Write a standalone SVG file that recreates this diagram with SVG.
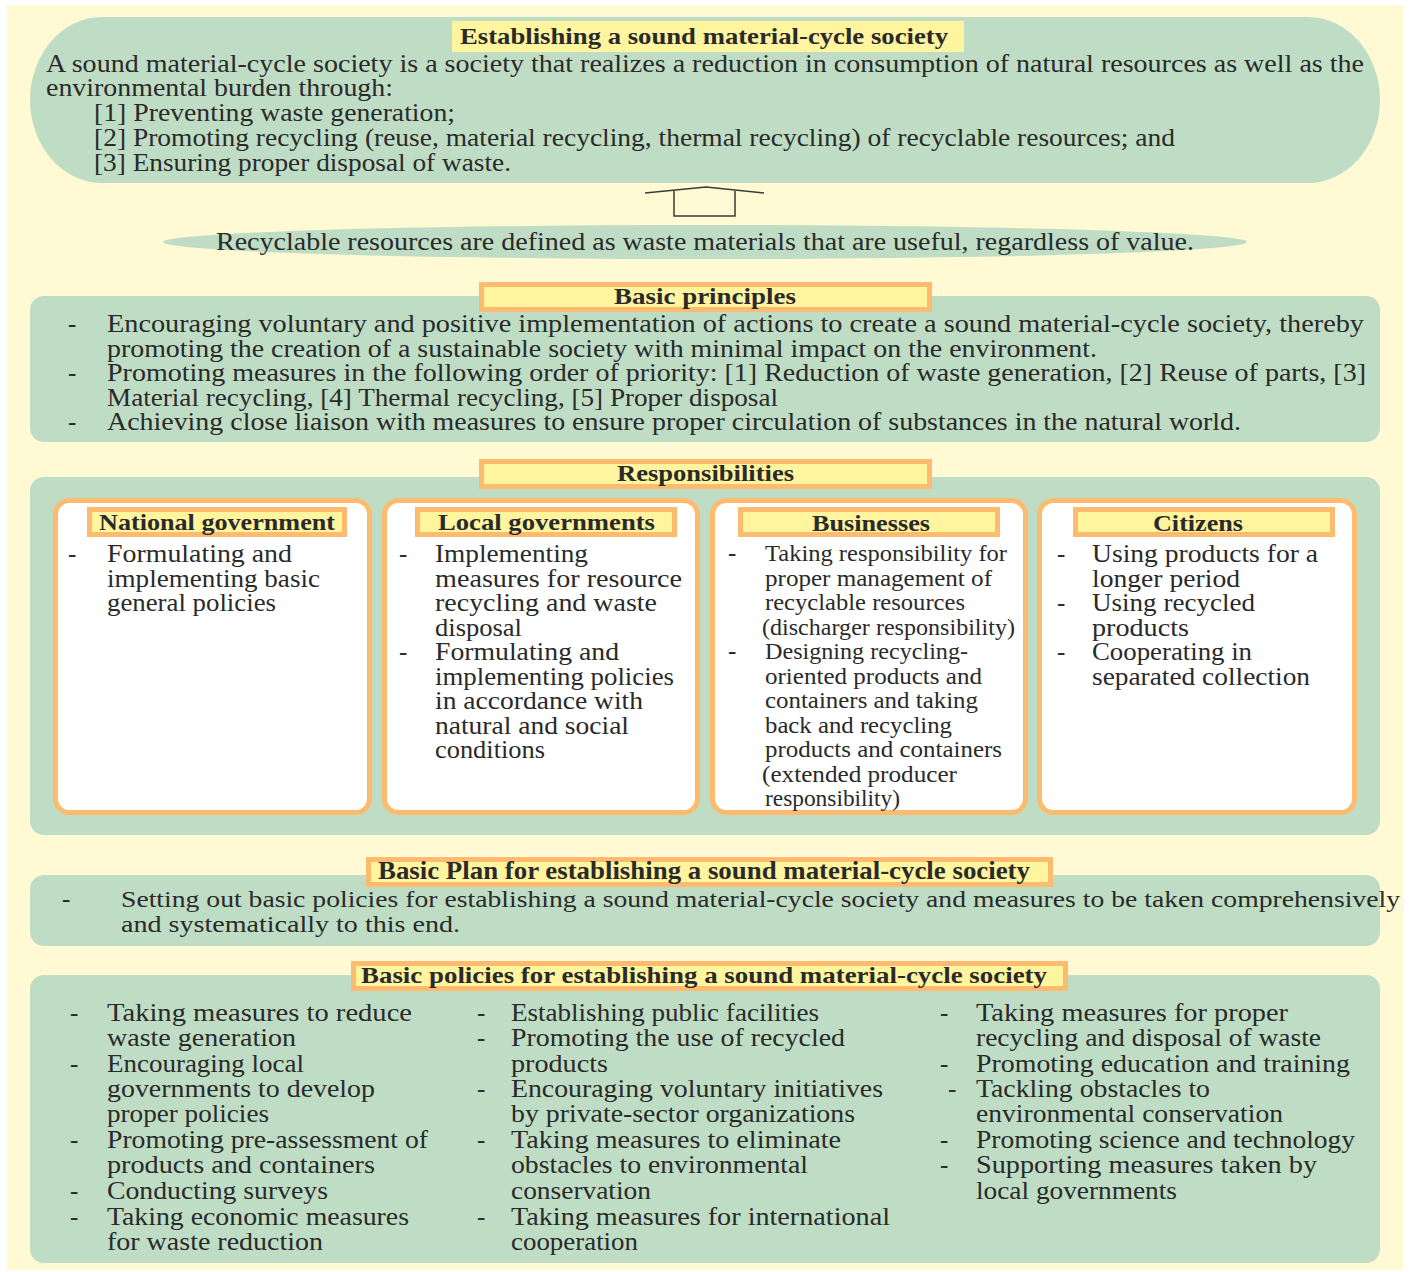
<svg xmlns="http://www.w3.org/2000/svg" width="1416" height="1272" viewBox="0 0 1416 1272">
<defs>
<style>
  .bg{fill:#fffad3}
  .panel{fill:#bfddc5}
  .tag{fill:#fff59e;stroke:#fdbb70;stroke-width:5}
  .tagplain{fill:#fff59e}
  .card{fill:#ffffff;stroke:#fdbb70;stroke-width:5}
  text{font-family:"Liberation Serif","DejaVu Serif",serif;fill:#2a2a2a;font-size:25px}
  .h{font-size:23px;font-weight:bold}
  .s{font-size:23.5px}
  .arrow{fill:none;stroke:#3a3a3a;stroke-width:1.5;stroke-linejoin:miter}
</style>
</defs>

<rect width="1416" height="1272" fill="#ffffff"/>
<rect x="7" y="5" width="1396" height="1265" class="bg"/>

<!-- Definition of a sound material-cycle society -->
<g id="definition">
  <rect x="30" y="17" width="1350" height="166" rx="72" ry="83" class="panel"/>
  <rect x="452" y="21" width="512" height="31" class="tagplain"/>
  <text class="h" x="460" y="44" textLength="488" lengthAdjust="spacingAndGlyphs">Establishing a sound material-cycle society</text>
  <text x="46" y="71.5" textLength="1318" lengthAdjust="spacingAndGlyphs">A sound material-cycle society is a society that realizes a reduction in consumption of natural resources as well as the</text>
  <text x="46" y="96" textLength="347" lengthAdjust="spacingAndGlyphs">environmental burden through:</text>
  <text x="94" y="121" textLength="361" lengthAdjust="spacingAndGlyphs">[1] Preventing waste generation;</text>
  <text x="94" y="146" textLength="1081" lengthAdjust="spacingAndGlyphs">[2] Promoting recycling (reuse, material recycling, thermal recycling) of recyclable resources; and</text>
  <text x="94" y="171" textLength="417" lengthAdjust="spacingAndGlyphs">[3] Ensuring proper disposal of waste.</text>
</g>

<!-- Definition of recyclable resources -->
<g id="recyclable-resources">
  <ellipse cx="705" cy="242" rx="542" ry="17" class="panel"/>
  <text x="216" y="249.5" textLength="978" lengthAdjust="spacingAndGlyphs">Recyclable resources are defined as waste materials that are useful, regardless of value.</text>
</g>

<!-- Connectors -->
<g id="connectors">
  <path class="arrow" d="M645,193 L706,187 L764,193 M735,191 L735,216 L674,216 L674,191"/>
</g>

<!-- Basic principles -->
<g id="basic-principles">
  <rect x="30" y="296" width="1350" height="146" rx="14" class="panel"/>
  <rect x="481.5" y="284.5" width="448" height="25" class="tag"/>
  <text class="h" x="614" y="303.5" textLength="182" lengthAdjust="spacingAndGlyphs">Basic principles</text>
  <text x="68" y="332">-</text>
  <text x="107" y="332" textLength="1257" lengthAdjust="spacingAndGlyphs">Encouraging voluntary and positive implementation of actions to create a sound material-cycle society, thereby</text>
  <text x="107" y="356.5" textLength="990" lengthAdjust="spacingAndGlyphs">promoting the creation of a sustainable society with minimal impact on the environment.</text>
  <text x="68" y="381">-</text>
  <text x="107" y="381" textLength="1259" lengthAdjust="spacingAndGlyphs">Promoting measures in the following order of priority: [1] Reduction of waste generation, [2] Reuse of parts, [3]</text>
  <text x="107" y="405.5" textLength="671" lengthAdjust="spacingAndGlyphs">Material recycling, [4] Thermal recycling, [5] Proper disposal</text>
  <text x="68" y="430">-</text>
  <text x="107" y="430" textLength="1134" lengthAdjust="spacingAndGlyphs">Achieving close liaison with measures to ensure proper circulation of substances in the natural world.</text>
</g>

<!-- Responsibilities -->
<g id="responsibilities">
  <rect x="30" y="477" width="1350" height="358" rx="14" class="panel"/>
  <rect x="481.5" y="461.5" width="448" height="25" class="tag"/>
  <text class="h" x="617" y="481" textLength="177" lengthAdjust="spacingAndGlyphs">Responsibilities</text>
</g>

<g id="resp-national">
  <rect x="55.5" y="500.5" width="314" height="312" rx="14" class="card"/>
  <rect x="89.5" y="509.5" width="255" height="25" class="tag"/>
  <text class="h" x="99" y="530" textLength="236" lengthAdjust="spacingAndGlyphs">National government</text>
  <text x="68" y="562">-</text>
  <text x="107" y="562" textLength="185" lengthAdjust="spacingAndGlyphs">Formulating and</text>
  <text x="107" y="586.5" textLength="213" lengthAdjust="spacingAndGlyphs">implementing basic</text>
  <text x="107" y="611" textLength="169" lengthAdjust="spacingAndGlyphs">general policies</text>
</g>

<g id="resp-local">
  <rect x="384.5" y="500.5" width="313" height="312" rx="14" class="card"/>
  <rect x="417.5" y="509.5" width="257" height="25" class="tag"/>
  <text class="h" x="438" y="530" textLength="217" lengthAdjust="spacingAndGlyphs">Local governments</text>
  <text x="399" y="562">-</text>
  <text x="435" y="562" textLength="153" lengthAdjust="spacingAndGlyphs">Implementing</text>
  <text x="435" y="586.5" textLength="247" lengthAdjust="spacingAndGlyphs">measures for resource</text>
  <text x="435" y="611" textLength="222" lengthAdjust="spacingAndGlyphs">recycling and waste</text>
  <text x="435" y="635.5" textLength="87" lengthAdjust="spacingAndGlyphs">disposal</text>
  <text x="399" y="660">-</text>
  <text x="435" y="660" textLength="184" lengthAdjust="spacingAndGlyphs">Formulating and</text>
  <text x="435" y="684.5" textLength="239" lengthAdjust="spacingAndGlyphs">implementing policies</text>
  <text x="435" y="709" textLength="208" lengthAdjust="spacingAndGlyphs">in accordance with</text>
  <text x="435" y="733.5" textLength="194" lengthAdjust="spacingAndGlyphs">natural and social</text>
  <text x="435" y="758" textLength="110" lengthAdjust="spacingAndGlyphs">conditions</text>
</g>

<g id="resp-businesses">
  <rect x="712.5" y="500.5" width="313" height="312" rx="14" class="card"/>
  <rect x="740.5" y="509.5" width="257" height="25" class="tag"/>
  <text class="h" x="812" y="530.5" textLength="118" lengthAdjust="spacingAndGlyphs">Businesses</text>
  <text x="728" y="561">-</text>
  <text class="s" x="765" y="561" textLength="242" lengthAdjust="spacingAndGlyphs">Taking responsibility for</text>
  <text class="s" x="765" y="585.5" textLength="227" lengthAdjust="spacingAndGlyphs">proper management of</text>
  <text class="s" x="765" y="610" textLength="200" lengthAdjust="spacingAndGlyphs">recyclable resources</text>
  <text class="s" x="762" y="634.5" textLength="253" lengthAdjust="spacingAndGlyphs">(discharger responsibility)</text>
  <text x="728" y="659">-</text>
  <text class="s" x="765" y="659" textLength="203" lengthAdjust="spacingAndGlyphs">Designing recycling-</text>
  <text class="s" x="765" y="683.5" textLength="217" lengthAdjust="spacingAndGlyphs">oriented products and</text>
  <text class="s" x="765" y="708" textLength="213" lengthAdjust="spacingAndGlyphs">containers and taking</text>
  <text class="s" x="765" y="732.5" textLength="187" lengthAdjust="spacingAndGlyphs">back and recycling</text>
  <text class="s" x="765" y="756.5" textLength="237" lengthAdjust="spacingAndGlyphs">products and containers</text>
  <text class="s" x="762" y="781.5" textLength="195" lengthAdjust="spacingAndGlyphs">(extended producer</text>
  <text class="s" x="765" y="805.5" textLength="135" lengthAdjust="spacingAndGlyphs">responsibility)</text>
</g>

<g id="resp-citizens">
  <rect x="1039.5" y="500.5" width="315" height="312" rx="14" class="card"/>
  <rect x="1075.5" y="509.5" width="257" height="25" class="tag"/>
  <text class="h" x="1153" y="530.5" textLength="90" lengthAdjust="spacingAndGlyphs">Citizens</text>
  <text x="1057" y="562">-</text>
  <text x="1092" y="562" textLength="226" lengthAdjust="spacingAndGlyphs">Using products for a</text>
  <text x="1092" y="586.5" textLength="148" lengthAdjust="spacingAndGlyphs">longer period</text>
  <text x="1057" y="611">-</text>
  <text x="1092" y="611" textLength="163" lengthAdjust="spacingAndGlyphs">Using recycled</text>
  <text x="1092" y="635.5" textLength="97" lengthAdjust="spacingAndGlyphs">products</text>
  <text x="1057" y="660">-</text>
  <text x="1092" y="660" textLength="160" lengthAdjust="spacingAndGlyphs">Cooperating in</text>
  <text x="1092" y="684.5" textLength="218" lengthAdjust="spacingAndGlyphs">separated collection</text>
</g>

<!-- Basic Plan -->
<g id="basic-plan">
  <rect x="30" y="875" width="1350" height="71" rx="14" class="panel"/>
  <rect x="368.5" y="859.5" width="682" height="25" class="tag"/>
  <text x="378" y="879" textLength="652" lengthAdjust="spacingAndGlyphs" font-size="23" font-weight="bold">Basic Plan for establishing a sound material-cycle society</text>
  <text x="62" y="906.5">-</text>
  <text class="s" x="121" y="906.5" textLength="1279" lengthAdjust="spacingAndGlyphs">Setting out basic policies for establishing a sound material-cycle society and measures to be taken comprehensively</text>
  <text class="s" x="121" y="931.5" textLength="339" lengthAdjust="spacingAndGlyphs">and systematically to this end.</text>
</g>

<!-- Basic policies -->
<g id="basic-policies">
  <rect x="30" y="975" width="1350" height="288" rx="14" class="panel"/>
  <rect x="353.5" y="963.5" width="712" height="25" class="tag"/>
  <text class="h" x="361" y="983" textLength="686" lengthAdjust="spacingAndGlyphs">Basic policies for establishing a sound material-cycle society</text>

  <text x="70" y="1021">-</text>
  <text x="107" y="1021" textLength="305" lengthAdjust="spacingAndGlyphs">Taking measures to reduce</text>
  <text x="107" y="1046" textLength="189" lengthAdjust="spacingAndGlyphs">waste generation</text>
  <text x="70" y="1071.5">-</text>
  <text x="107" y="1071.5" textLength="197" lengthAdjust="spacingAndGlyphs">Encouraging local</text>
  <text x="107" y="1097" textLength="268" lengthAdjust="spacingAndGlyphs">governments to develop</text>
  <text x="107" y="1122" textLength="162" lengthAdjust="spacingAndGlyphs">proper policies</text>
  <text x="70" y="1148">-</text>
  <text x="107" y="1148" textLength="321" lengthAdjust="spacingAndGlyphs">Promoting pre-assessment of</text>
  <text x="107" y="1173" textLength="268" lengthAdjust="spacingAndGlyphs">products and containers</text>
  <text x="70" y="1198.5">-</text>
  <text x="107" y="1198.5" textLength="221" lengthAdjust="spacingAndGlyphs">Conducting surveys</text>
  <text x="70" y="1224.5">-</text>
  <text x="107" y="1224.5" textLength="302" lengthAdjust="spacingAndGlyphs">Taking economic measures</text>
  <text x="107" y="1250" textLength="216" lengthAdjust="spacingAndGlyphs">for waste reduction</text>

  <text x="477" y="1021">-</text>
  <text x="511" y="1021" textLength="308" lengthAdjust="spacingAndGlyphs">Establishing public facilities</text>
  <text x="477" y="1046">-</text>
  <text x="511" y="1046" textLength="334" lengthAdjust="spacingAndGlyphs">Promoting the use of recycled</text>
  <text x="511" y="1071.5" textLength="97" lengthAdjust="spacingAndGlyphs">products</text>
  <text x="477" y="1097">-</text>
  <text x="511" y="1097" textLength="372" lengthAdjust="spacingAndGlyphs">Encouraging voluntary initiatives</text>
  <text x="511" y="1122" textLength="344" lengthAdjust="spacingAndGlyphs">by private-sector organizations</text>
  <text x="477" y="1148">-</text>
  <text x="511" y="1148" textLength="330" lengthAdjust="spacingAndGlyphs">Taking measures to eliminate</text>
  <text x="511" y="1173" textLength="297" lengthAdjust="spacingAndGlyphs">obstacles to environmental</text>
  <text x="511" y="1198.5" textLength="140" lengthAdjust="spacingAndGlyphs">conservation</text>
  <text x="477" y="1224.5">-</text>
  <text x="511" y="1224.5" textLength="379" lengthAdjust="spacingAndGlyphs">Taking measures for international</text>
  <text x="511" y="1250" textLength="127" lengthAdjust="spacingAndGlyphs">cooperation</text>

  <text x="940" y="1021">-</text>
  <text x="976" y="1021" textLength="312" lengthAdjust="spacingAndGlyphs">Taking measures for proper</text>
  <text x="976" y="1046" textLength="345" lengthAdjust="spacingAndGlyphs">recycling and disposal of waste</text>
  <text x="940" y="1071.5">-</text>
  <text x="976" y="1071.5" textLength="374" lengthAdjust="spacingAndGlyphs">Promoting education and training</text>
  <text x="948" y="1097">-</text>
  <text x="976" y="1097" textLength="234" lengthAdjust="spacingAndGlyphs">Tackling obstacles to</text>
  <text x="976" y="1122" textLength="307" lengthAdjust="spacingAndGlyphs">environmental conservation</text>
  <text x="940" y="1148">-</text>
  <text x="976" y="1148" textLength="379" lengthAdjust="spacingAndGlyphs">Promoting science and technology</text>
  <text x="940" y="1173">-</text>
  <text x="976" y="1173" textLength="341" lengthAdjust="spacingAndGlyphs">Supporting measures taken by</text>
  <text x="976" y="1198.5" textLength="201" lengthAdjust="spacingAndGlyphs">local governments</text>
</g>
</svg>
